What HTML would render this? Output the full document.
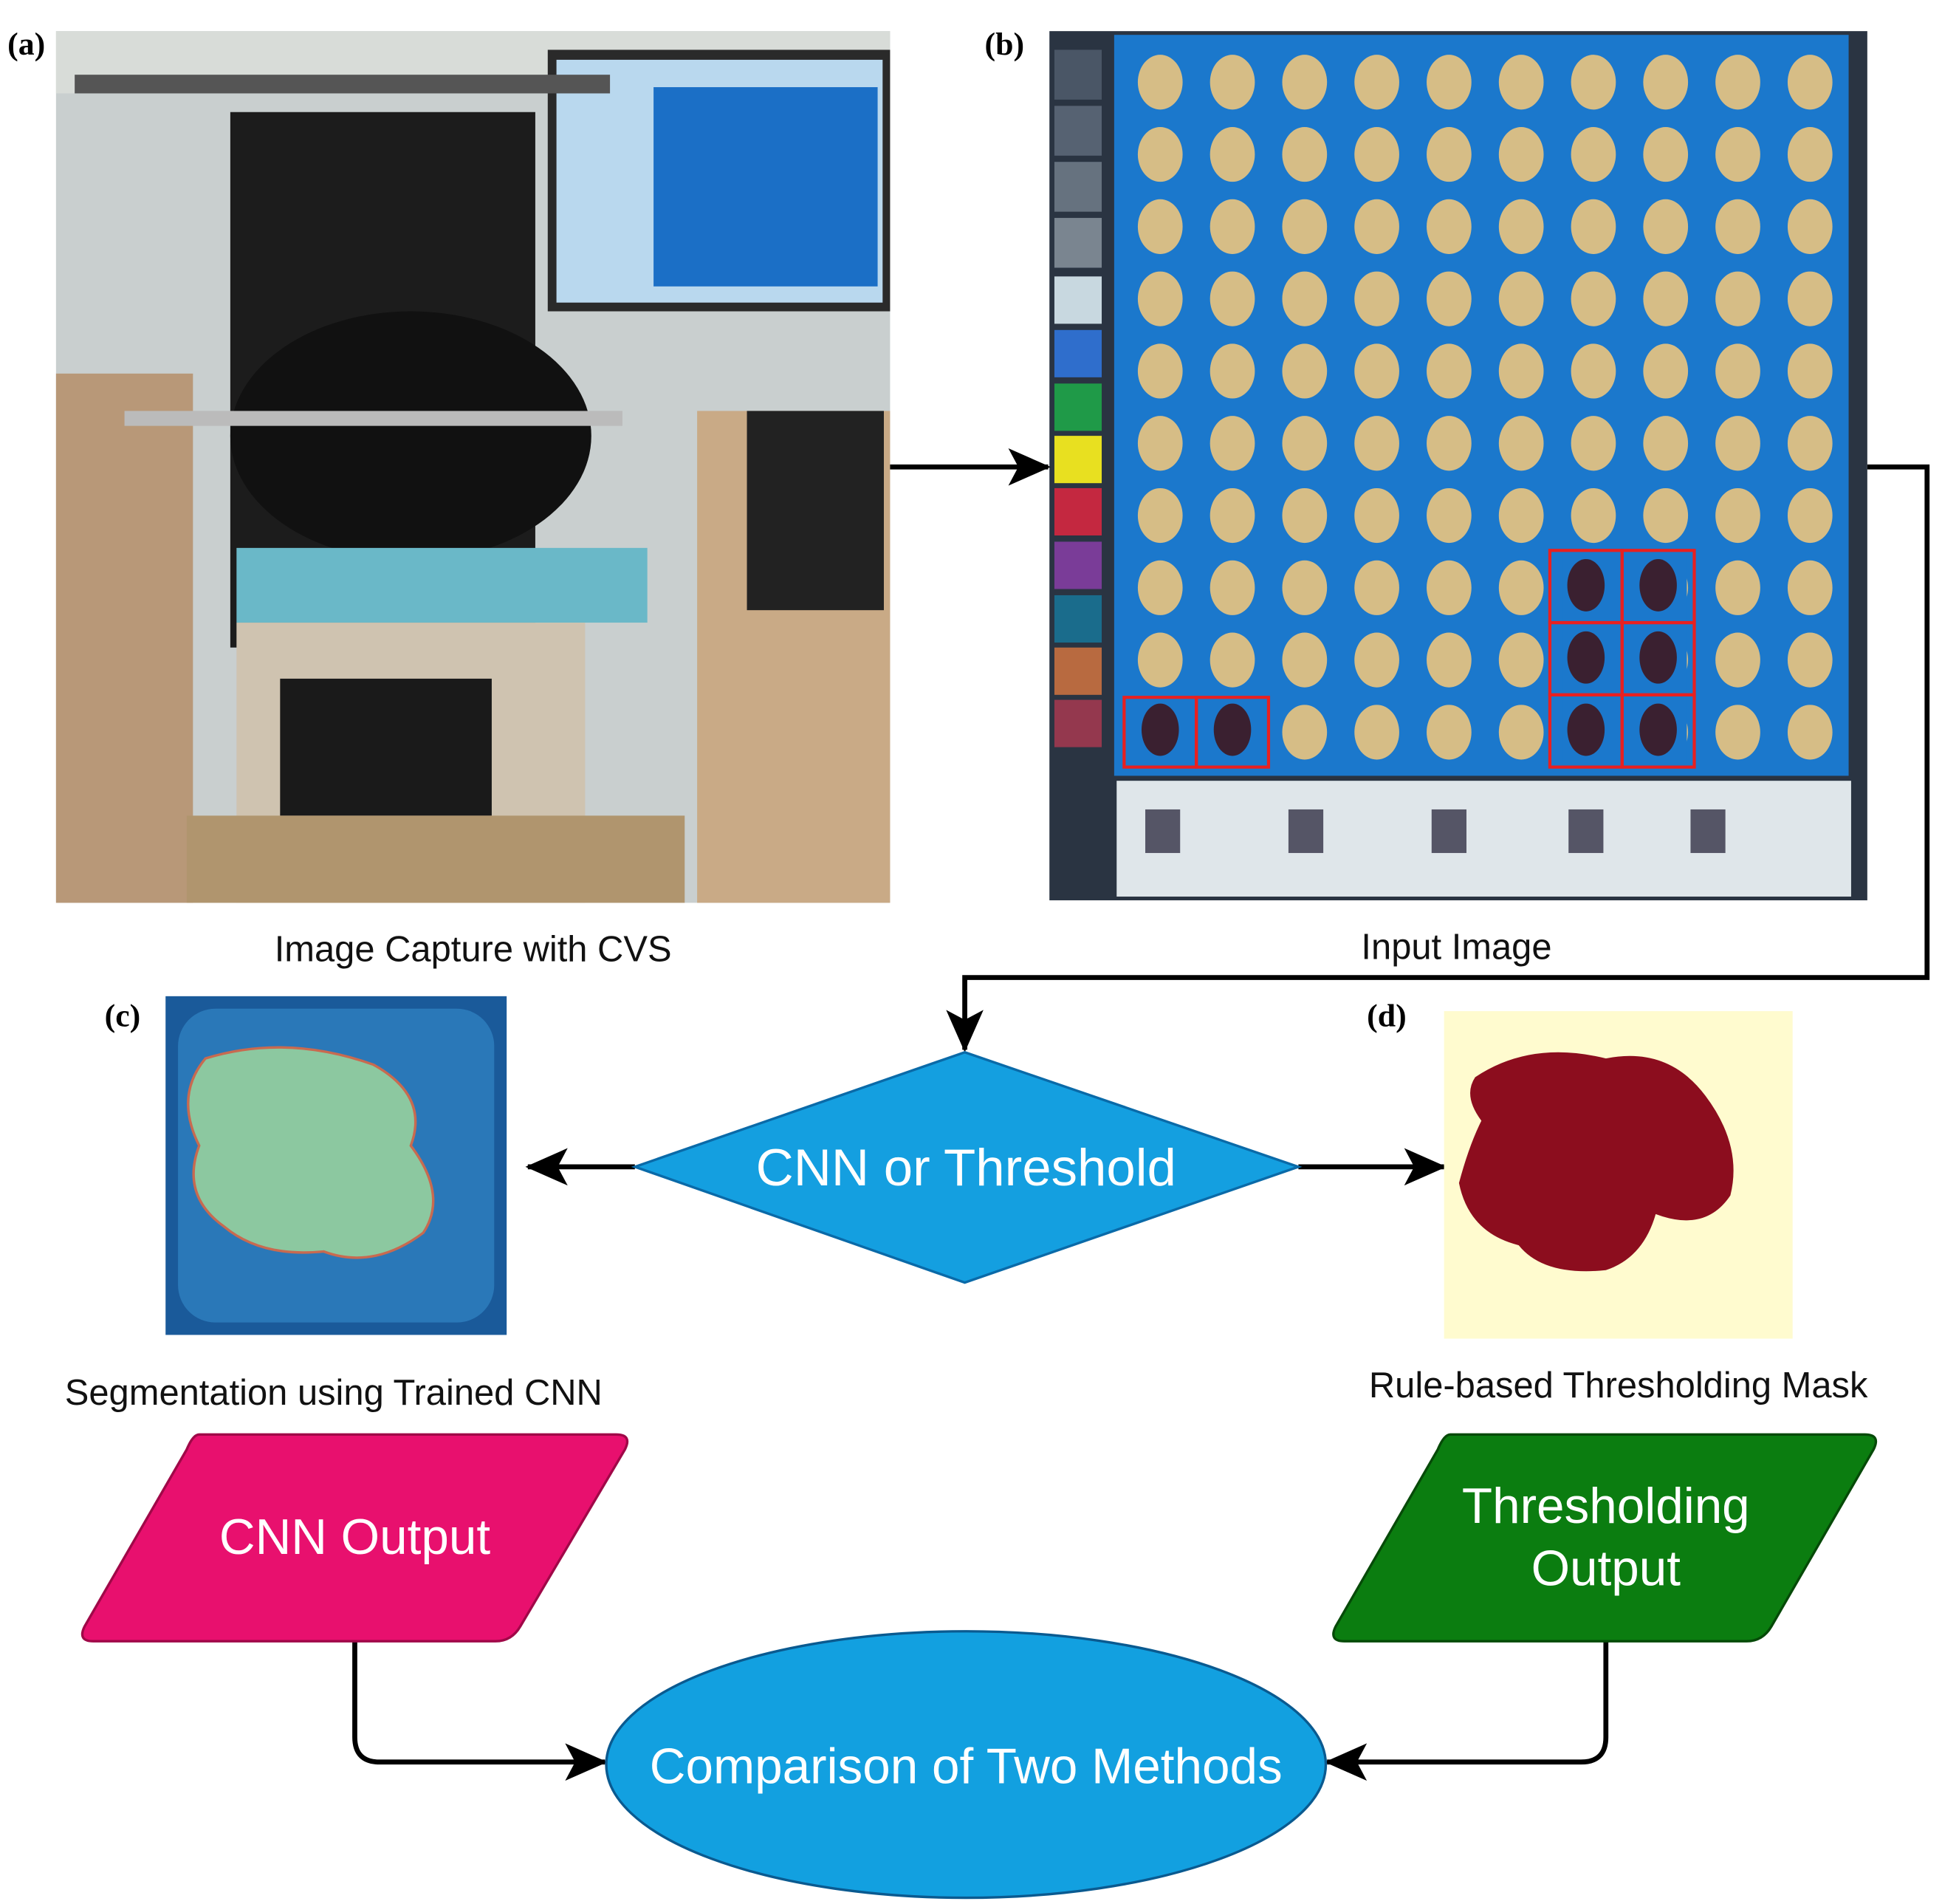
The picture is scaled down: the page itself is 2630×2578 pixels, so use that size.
<!DOCTYPE html>
<html><head><meta charset="utf-8"><style>html,body{margin:0;padding:0;background:#fff}svg{display:block}</style></head><body>
<svg width="2630" height="2578" viewBox="0 0 1560 1529" preserveAspectRatio="none" xmlns="http://www.w3.org/2000/svg" font-family="Liberation Sans, sans-serif">
<defs>
<marker id="ah" markerWidth="34" markerHeight="30" refX="32" refY="15" orient="auto" markerUnits="userSpaceOnUse"><path d="M0,0 L34,15 L0,30 L8,15 z" fill="#000"/></marker>
</defs>
<!-- labels -->
<g font-family="Liberation Serif, serif" font-size="26" font-weight="bold">
<text x="6" y="44">(a)</text><text x="791" y="44">(b)</text>
<text x="84" y="824">(c)</text><text x="1098" y="824">(d)</text>
</g>
<!-- photo a -->
<rect x="45" y="25" width="670" height="700" fill="#c9cfcf"/>
<rect x="45" y="25" width="670" height="50" fill="#d8dcd8"/>
<rect x="185" y="90" width="245" height="430" fill="#1c1c1c"/>
<rect x="440" y="40" width="275" height="210" fill="#2a2a2a"/>
<rect x="447" y="48" width="262" height="195" fill="#b9d8ee"/>
<rect x="525" y="70" width="180" height="160" fill="#1b6fc6"/>
<ellipse cx="330" cy="350" rx="145" ry="100" fill="#111"/>
<rect x="45" y="300" width="110" height="425" fill="#b89878"/>
<rect x="560" y="330" width="155" height="395" fill="#c9aa86"/>
<rect x="190" y="440" width="330" height="60" fill="#6ab8c8"/>
<rect x="190" y="500" width="280" height="225" fill="#cfc3b0"/>
<rect x="225" y="545" width="170" height="110" fill="#1a1a1a"/>
<rect x="600" y="330" width="110" height="160" fill="#222"/>
<rect x="60" y="60" width="430" height="15" fill="#555"/>
<rect x="100" y="330" width="400" height="12" fill="#bbb"/>
<rect x="150" y="655" width="400" height="70" fill="#b0956e"/>
<!-- photo b -->
<rect x="843" y="25" width="657" height="698" fill="#2a3442"/>
<g>
<rect x="847" y="40" width="38" height="40" fill="#4a5666"/>
<rect x="847" y="85" width="38" height="40" fill="#566272"/>
<rect x="847" y="130" width="38" height="40" fill="#66727f"/>
<rect x="847" y="175" width="38" height="40" fill="#7a8590"/>
<rect x="847" y="222" width="38" height="38" fill="#c8d8e0"/>
<rect x="847" y="265" width="38" height="38" fill="#2f6ecc"/>
<rect x="847" y="308" width="38" height="38" fill="#1f9a48"/>
<rect x="847" y="350" width="38" height="38" fill="#e8e020"/>
<rect x="847" y="392" width="38" height="38" fill="#c42840"/>
<rect x="847" y="435" width="38" height="38" fill="#7a3c98"/>
<rect x="847" y="478" width="38" height="38" fill="#1a6c8c"/>
<rect x="847" y="520" width="38" height="38" fill="#b86a40"/>
<rect x="847" y="562" width="38" height="38" fill="#94384e"/>
</g>
<rect x="895" y="28" width="590" height="595" fill="#1b78cc"/>
<g fill="#d6bd86">
<g id="r0">
<ellipse cx="932" cy="66" rx="18" ry="22"/><ellipse cx="990" cy="66" rx="18" ry="22"/><ellipse cx="1048" cy="66" rx="18" ry="22"/><ellipse cx="1106" cy="66" rx="18" ry="22"/><ellipse cx="1164" cy="66" rx="18" ry="22"/><ellipse cx="1222" cy="66" rx="18" ry="22"/><ellipse cx="1280" cy="66" rx="18" ry="22"/><ellipse cx="1338" cy="66" rx="18" ry="22"/><ellipse cx="1396" cy="66" rx="18" ry="22"/><ellipse cx="1454" cy="66" rx="18" ry="22"/>
</g>
<use href="#r0" y="58"/><use href="#r0" y="116"/><use href="#r0" y="174"/><use href="#r0" y="232"/><use href="#r0" y="290"/><use href="#r0" y="348"/><use href="#r0" y="406"/><use href="#r0" y="464"/><use href="#r0" y="522"/>
</g>
<g fill="#1b78cc">
<rect x="1255" y="444" width="100" height="170"/><rect x="910" y="562" width="102" height="52"/>
</g>
<g fill="#3a2030">
<ellipse cx="1274" cy="470" rx="15" ry="21"/><ellipse cx="1332" cy="470" rx="15" ry="21"/>
<ellipse cx="1274" cy="528" rx="15" ry="21"/><ellipse cx="1332" cy="528" rx="15" ry="21"/>
<ellipse cx="1274" cy="586" rx="15" ry="21"/><ellipse cx="1332" cy="586" rx="15" ry="21"/>
<ellipse cx="932" cy="586" rx="15" ry="21"/><ellipse cx="990" cy="586" rx="15" ry="21"/>
</g>
<g fill="none" stroke="#e82020" stroke-width="2.5">
<rect x="1245" y="442" width="58" height="58"/><rect x="1303" y="442" width="58" height="58"/>
<rect x="1245" y="500" width="58" height="58"/><rect x="1303" y="500" width="58" height="58"/>
<rect x="1245" y="558" width="58" height="58"/><rect x="1303" y="558" width="58" height="58"/>
<rect x="903" y="560" width="58" height="56"/><rect x="961" y="560" width="58" height="56"/>
</g>
<rect x="897" y="627" width="590" height="93" fill="#dfe6ea"/>
<g fill="#556">
<rect x="920" y="650" width="28" height="35"/><rect x="1035" y="650" width="28" height="35"/><rect x="1150" y="650" width="28" height="35"/><rect x="1260" y="650" width="28" height="35"/><rect x="1358" y="650" width="28" height="35"/>
</g>
<!-- captions -->
<g font-size="29" fill="#111" text-anchor="middle">
<text x="380" y="772">Image Capture with CVS</text>
<text x="1170" y="770">Input Image</text>
<text x="268" y="1128">Segmentation using Trained CNN</text>
<text x="1300" y="1122">Rule-based Thresholding Mask</text>
</g>
<!-- connectors -->
<g stroke="#000" stroke-width="4" fill="none">
<line x1="715" y1="375" x2="842" y2="375" marker-end="url(#ah)"/>
<polyline points="1500,375 1548,375 1548,785 775,785 775,843" marker-end="url(#ah)"/>
<line x1="510" y1="937" x2="424" y2="937" marker-end="url(#ah)"/>
<line x1="1043" y1="937" x2="1160" y2="937" marker-end="url(#ah)"/>
<path d="M285,1318 V1395 Q285,1415 305,1415 H486" marker-end="url(#ah)"/>
<path d="M1290,1318 V1395 Q1290,1415 1270,1415 H1066" marker-end="url(#ah)"/>
</g>
<!-- image c -->
<rect x="133" y="800" width="274" height="272" fill="#1a5a9a"/>
<rect x="143" y="810" width="254" height="252" rx="30" fill="#2a78b8"/>
<path d="M165,850 Q230,830 300,855 Q345,880 330,920 Q360,960 340,990 Q300,1020 260,1005 Q210,1010 180,985 Q145,960 160,920 Q140,880 165,850z" fill="#8cc8a0" stroke="#c86a50" stroke-width="2"/>
<!-- image d -->
<rect x="1160" y="812" width="280" height="263" fill="#fffbcf"/>
<path d="M1185,865 Q1230,835 1290,850 Q1340,840 1370,880 Q1400,920 1390,960 Q1370,990 1330,975 Q1320,1010 1290,1020 Q1240,1025 1220,1000 Q1180,990 1172,950 Q1180,920 1190,900 Q1175,880 1185,865z" fill="#8c0d1e"/>
<!-- diamond -->
<polygon points="775,845 1043,937 775,1030 510,937" fill="#149fe0" stroke="#0a6aa8" stroke-width="2"/>
<text x="776" y="952" font-size="42" fill="#fff" text-anchor="middle">CNN or Threshold</text>
<!-- parallelograms -->
<path d="M160,1152 H495 Q508,1152 502,1164 L418,1306 Q411,1318 398,1318 H75 Q62,1318 68,1306 L150,1164 Q155,1152 160,1152z" fill="#e8106e" stroke="#a00848" stroke-width="2"/>
<text x="285" y="1248" font-size="40" fill="#fff" text-anchor="middle">CNN Output</text>
<path d="M1165,1152 H1498 Q1511,1152 1505,1164 L1423,1306 Q1416,1318 1403,1318 H1080 Q1067,1318 1073,1306 L1155,1164 Q1160,1152 1165,1152z" fill="#0b7d10" stroke="#064a08" stroke-width="2"/>
<text x="1290" y="1223" font-size="40" fill="#fff" text-anchor="middle">Thresholding</text>
<text x="1290" y="1273" font-size="40" fill="#fff" text-anchor="middle">Output</text>
<!-- ellipse -->
<ellipse cx="776" cy="1417" rx="289" ry="107" fill="#12a0e0" stroke="#0a5a90" stroke-width="2"/>
<text x="776" y="1432" font-size="40" fill="#fff" text-anchor="middle">Comparison of Two Methods</text>
</svg>
</body></html>
